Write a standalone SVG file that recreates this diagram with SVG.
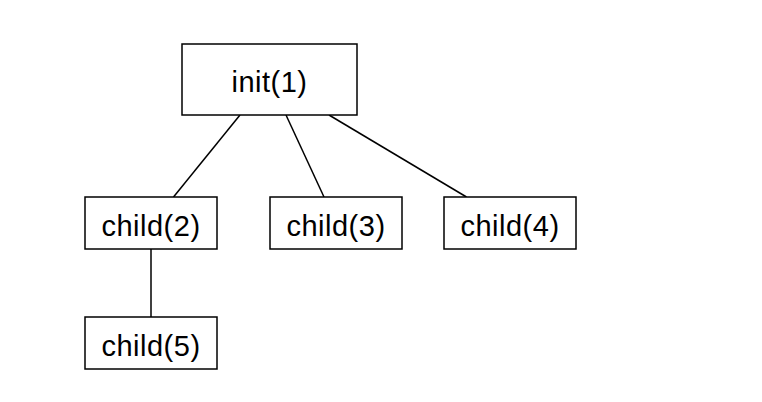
<svg xmlns="http://www.w3.org/2000/svg" width="762" height="402" viewBox="0 0 762 402">
  <style>
    .box { fill: #ffffff; stroke: #000000; stroke-width: 1.5; }
    .label { font-family: "Liberation Sans", Arial, sans-serif; font-size: 29px; letter-spacing: 0.5px; fill: #000000; text-anchor: middle; }
    .edge { stroke: #000000; stroke-width: 1.5; fill: none; }
  </style>
  <rect width="762" height="402" fill="#ffffff"/>
  <g id="connectors">
    <line class="edge" x1="240" y1="115" x2="173.5" y2="197"/>
    <line class="edge" x1="286" y1="115" x2="324" y2="197"/>
    <line class="edge" x1="329" y1="115" x2="466.5" y2="197"/>
    <line class="edge" x1="151" y1="249" x2="151" y2="317"/>
  </g>
  <g id="init1">
    <rect class="box" x="182" y="44" width="175" height="71"/>
    <text class="label" x="269.5" y="92">init(1)</text>
  </g>
  <g id="child2">
    <rect class="box" x="85" y="197" width="132" height="52"/>
    <text class="label" x="151" y="236">child(2)</text>
  </g>
  <g id="child3">
    <rect class="box" x="270" y="197" width="132" height="52"/>
    <text class="label" x="336" y="236">child(3)</text>
  </g>
  <g id="child4">
    <rect class="box" x="444" y="197" width="132" height="52"/>
    <text class="label" x="510" y="236">child(4)</text>
  </g>
  <g id="child5">
    <rect class="box" x="85" y="317" width="132" height="52"/>
    <text class="label" x="151" y="356">child(5)</text>
  </g>
</svg>
